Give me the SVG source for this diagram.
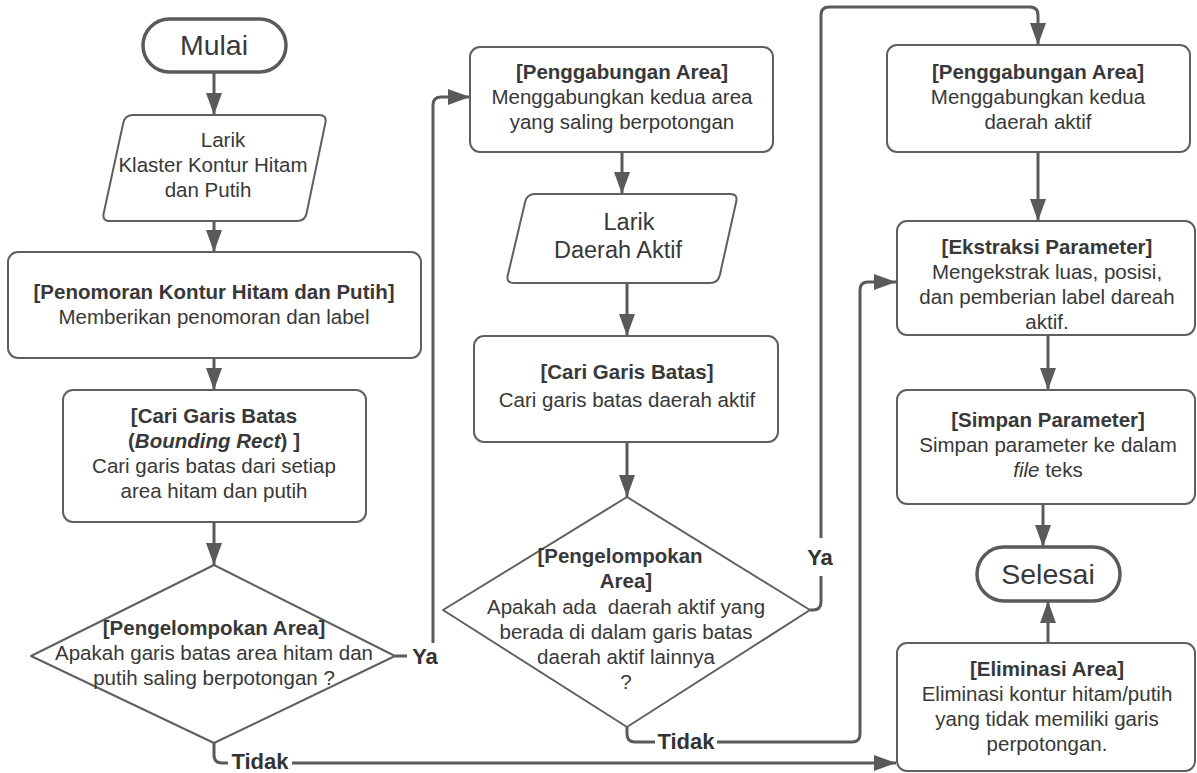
<svg xmlns="http://www.w3.org/2000/svg" width="1197" height="773" viewBox="0 0 1197 773">
<style>
.box{fill:#fff;stroke:#5f5f5f;stroke-width:2;stroke-linejoin:round}
.term{fill:#fff;stroke:#5a5a5a;stroke-width:3.5}
.t{font-family:"Liberation Sans",Arial,sans-serif;font-size:20.5px;fill:#383838;text-anchor:middle}
.b{font-weight:bold}
.big{font-size:28.5px}
.mid{font-size:23.5px}
.lbl{font-family:"Liberation Sans",Arial,sans-serif;font-size:22px;font-weight:bold;fill:#333;text-anchor:middle}
.c{fill:none;stroke:#5a5a5a;stroke-width:3}
</style>
<defs>
<marker id="ah" markerUnits="userSpaceOnUse" markerWidth="22" markerHeight="16" refX="22" refY="8" orient="auto">
<path d="M0,0 L22,8 L0,16 z" fill="#5a5a5a"/>
</marker>
</defs>
<rect width="1197" height="773" fill="#fff"/>

<g id="connectors">
<path class="c" d="M214,73 L214,115" marker-end="url(#ah)"/>
<path class="c" d="M214,221 L214,252" marker-end="url(#ah)"/>
<path class="c" d="M214,358 L214,390" marker-end="url(#ah)"/>
<path class="c" d="M214,522 L214,565" marker-end="url(#ah)"/>
<path class="c" d="M395,656 L425,656 Q433,656 433,648 L433,105 Q433,97 441,97 L470,97" marker-end="url(#ah)"/>
<path class="c" d="M214,743 L214,755 Q214,763 222,763 L896,763" marker-end="url(#ah)"/>
<path class="c" d="M622,152 L622,194" marker-end="url(#ah)"/>
<path class="c" d="M627,283 L627,336" marker-end="url(#ah)"/>
<path class="c" d="M627,442 L627,497" marker-end="url(#ah)"/>
<path class="c" d="M810,610 L813,610 Q821,610 821,602 L821,15 Q821,7 829,7 L1030,7 Q1038,7 1038,15 L1038,45" marker-end="url(#ah)"/>
<path class="c" d="M627,727 L627,734 Q627,742 635,742 L852,742 Q860,742 860,734 L860,290 Q860,282 868,282 L896,282" marker-end="url(#ah)"/>
<path class="c" d="M1038,152 L1038,221" marker-end="url(#ah)"/>
<path class="c" d="M1048,335 L1048,390" marker-end="url(#ah)"/>
<path class="c" d="M1043,504 L1043,547" marker-end="url(#ah)"/>
<path class="c" d="M1048,643 L1048,601" marker-end="url(#ah)"/>
<rect x="407" y="643" width="36" height="26" fill="#fff"/>
<text class="lbl" x="425" y="664">Ya</text>
<rect x="805" y="538" width="32" height="38" fill="#fff"/>
<text class="lbl" x="820" y="565">Ya</text>
<rect x="228" y="752" width="64" height="19" fill="#fff"/>
<text class="lbl" x="260" y="769">Tidak</text>
<rect x="655" y="731" width="62" height="20" fill="#fff"/>
<text class="lbl" x="686" y="749">Tidak</text>
</g>

<g id="mulai">
<rect class="term" x="143" y="19" width="143" height="53" rx="26.5"/>
<text class="t big" x="214" y="55">Mulai</text>
</g>

<g id="larik1">
<path class="box" d="M133,115 L319,115 Q327,115 325.4,122.8 L306.6,213.2 Q305,221 297,221 L110,221 Q102,221 103.7,213.2 L123.3,122.8 Q125,115 133,115 Z"/>
<text class="t" x="223" y="147">Larik</text>
<text class="t" x="213" y="172">Klaster Kontur Hitam</text>
<text class="t" x="208" y="197">dan Putih</text>
</g>

<g id="penomoran">
<rect class="box" x="8" y="252" width="413" height="106" rx="10"/>
<text class="t b" x="214" y="299">[Penomoran Kontur Hitam dan Putih]</text>
<text class="t" x="214" y="324">Memberikan penomoran dan label</text>
</g>

<g id="cari1">
<rect class="box" x="63" y="390" width="303" height="132" rx="10"/>
<text class="t b" x="214" y="423">[Cari Garis Batas</text>
<text class="t b" x="214" y="448">(<tspan font-style="italic">Bounding Rect</tspan>) ]</text>
<text class="t" x="214" y="473">Cari garis batas dari setiap</text>
<text class="t" x="214" y="498">area hitam dan putih</text>
</g>

<g id="decision1">
<polygon class="box" points="214,565 395,656 214,743 31,656"/>
<text class="t b" x="214" y="635">[Pengelompokan Area]</text>
<text class="t" x="214" y="660">Apakah garis batas area hitam dan</text>
<text class="t" x="214" y="685">putih saling berpotongan ?</text>
</g>

<g id="penggabungan1">
<rect class="box" x="470" y="47" width="303" height="105" rx="10"/>
<text class="t b" x="622" y="79">[Penggabungan Area]</text>
<text class="t" x="622" y="104">Menggabungkan kedua area</text>
<text class="t" x="622" y="129">yang saling berpotongan</text>
</g>

<g id="larik2">
<path class="box" d="M535,194 L730,194 Q738,194 736.2,201.8 L719.8,275.2 Q718,283 710,283 L514,283 Q506,283 507.8,275.2 L525.2,201.8 Q527,194 535,194 Z"/>
<text class="t mid" x="629" y="230">Larik</text>
<text class="t mid" x="618" y="258">Daerah Aktif</text>
</g>

<g id="cari2">
<rect class="box" x="474" y="336" width="304" height="106" rx="10"/>
<text class="t b" x="627" y="379">[Cari Garis Batas]</text>
<text class="t" x="627" y="407">Cari garis batas daerah aktif</text>
</g>

<g id="decision2">
<polygon class="box" points="627,497 810,610 627,727 443,610"/>
<text class="t b" x="620" y="563">[Pengelompokan</text>
<text class="t b" x="626" y="588">Area]</text>
<text class="t" x="626" y="614" xml:space="preserve">Apakah ada  daerah aktif yang</text>
<text class="t" x="626" y="639">berada di dalam garis batas</text>
<text class="t" x="626" y="664">daerah aktif lainnya</text>
<text class="t" x="626" y="689">?</text>
</g>

<g id="penggabungan2">
<rect class="box" x="887" y="45" width="303" height="107" rx="10"/>
<text class="t b" x="1038" y="79">[Penggabungan Area]</text>
<text class="t" x="1038" y="104">Menggabungkan kedua</text>
<text class="t" x="1038" y="129">daerah aktif</text>
</g>

<g id="ekstraksi">
<rect class="box" x="897" y="221" width="298" height="114" rx="10"/>
<text class="t b" x="1047" y="254">[Ekstraksi Parameter]</text>
<text class="t" x="1047" y="279">Mengekstrak luas, posisi,</text>
<text class="t" x="1047" y="304">dan pemberian label dareah</text>
<text class="t" x="1047" y="329">aktif.</text>
</g>

<g id="simpan">
<rect class="box" x="897" y="390" width="298" height="114" rx="10"/>
<text class="t b" x="1048" y="427">[Simpan Parameter]</text>
<text class="t" x="1048" y="452">Simpan parameter ke dalam</text>
<text class="t" x="1048" y="477"><tspan font-style="italic">file</tspan> teks</text>
</g>

<g id="selesai">
<rect class="term" x="977" y="547" width="143" height="54" rx="27"/>
<text class="t big" x="1048" y="584">Selesai</text>
</g>

<g id="eliminasi">
<rect class="box" x="897" y="643" width="298" height="128" rx="10"/>
<text class="t b" x="1047" y="676">[Eliminasi Area]</text>
<text class="t" x="1047" y="701">Eliminasi kontur hitam/putih</text>
<text class="t" x="1047" y="726">yang tidak memiliki garis</text>
<text class="t" x="1047" y="751">perpotongan.</text>
</g>
</svg>
